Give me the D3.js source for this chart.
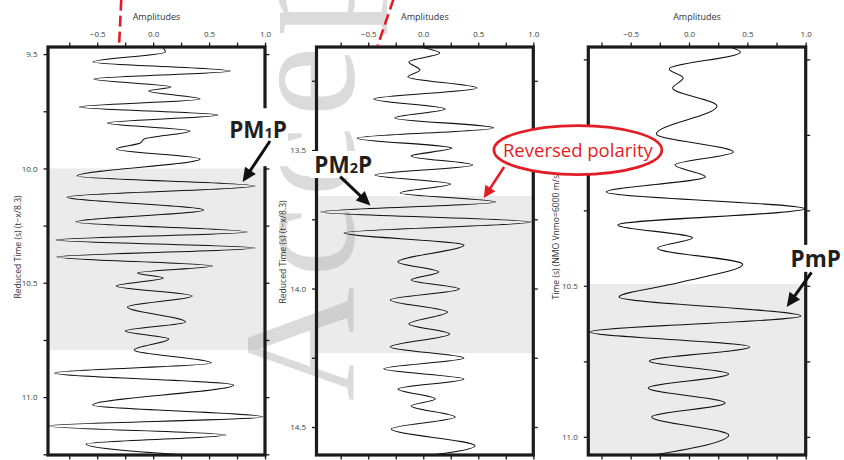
<!DOCTYPE html>
<html>
<head>
<meta charset="utf-8">
<script src="https://cdn.jsdelivr.net/npm/d3@7"></script>
<style>
  body { margin: 0; background: #fff; }
  svg { display: block; }
  text { font-family: "Open Sans", "Noto Sans", sans-serif; }
</style>
</head>
<body>
<svg id="chart" width="844" height="460"></svg>
<script>
// ---- Axis ticks ----
const ampMajor = [-0.5, 0.0, 0.5, 1.0];
const ampMinor = [-0.75, -0.25, 0.25, 0.75];
const time1Major = [9.5, 10.0, 10.5, 11.0];
const time1Minor = [9.75, 10.25, 10.75, 11.25];
const time2Major = [13.5, 14.0, 14.5];
const time2Minor = [13.25, 13.75, 14.25];
const time3Major = [10.5, 11.0];
const time3Minor = [9.75, 10.0, 10.25, 10.75];

// ---- Highlighted time windows (s) ----
const shade1 = [10.0, 10.794];
const shade2 = [13.666, 14.233];
const shade3 = [10.494, 11.07];

// ---- Trace 1: PM1P record, reduced time (t - x/8.3) ----
const trace1Time = [9.469, 9.491, 9.535, 9.574, 9.609, 9.644, 9.661, 9.696, 9.731, 9.766,
  9.801, 9.836, 9.871, 9.889, 9.915, 9.959, 10.033, 10.077, 10.125, 10.182,
  10.234, 10.278, 10.313, 10.348, 10.387, 10.427, 10.457, 10.479, 10.514, 10.558,
  10.606, 10.671, 10.711, 10.746, 10.794, 10.851, 10.894, 10.947, 11.034, 11.087,
  11.126, 11.166, 11.205, 11.27];
const trace1Amp = [0.08, 0.11, -0.54, 0.69, -0.53, 0.16, -0.04, 0.42, -0.66, 0.58,
  -0.41, 0.33, -0.08, -0.115, -0.33, 0.42, -0.68, 0.91, -0.77, 0.45,
  -0.69, 0.84, -0.87, 0.91, -0.86, 0.53, -0.14, 0.09, -0.33, 0.35,
  -0.23, 0.29, -0.25, 0.14, -0.17, 0.52, -0.88, 0.72, -0.54, 0.98,
  -0.95, 0.65, -0.60, 0.85];

// ---- Trace 2: PM2P record, reduced time (t - x/8.3) ----
const trace2Time = [13.128, 13.150, 13.182, 13.211, 13.236, 13.276, 13.316, 13.352, 13.384, 13.420,
  13.457, 13.493, 13.522, 13.554, 13.590, 13.623, 13.655, 13.688, 13.724, 13.760,
  13.799, 13.843, 13.904, 13.940, 13.969, 14.002, 14.041, 14.085, 14.128, 14.164,
  14.211, 14.251, 14.290, 14.327, 14.363, 14.399, 14.424, 14.464, 14.507, 14.568, 14.62];
const trace2Amp = [-0.03, 0.15, -0.13, -0.03, -0.14, 0.49, -0.45, 0.20, -0.26, 0.64,
  -0.60, 0.26, -0.11, 0.45, -0.44, 0.25, -0.21, 0.66, -0.93, 0.98,
  -0.72, 0.37, -0.23, 0.14, -0.11, 0.33, -0.30, 0.22, -0.13, 0.24,
  -0.30, 0.37, -0.36, 0.37, -0.23, 0.11, -0.11, 0.29, -0.29, 0.47, -0.35];

// ---- Trace 3: PmP record, NMO-corrected time (Vnmo = 6000 m/s) ----
const trace3Time = [9.709, 9.726, 9.782, 9.812, 9.845, 9.904, 9.997, 10.057, 10.100, 10.139,
  10.189, 10.245, 10.298, 10.341, 10.375, 10.428, 10.490, 10.537, 10.600, 10.653,
  10.702, 10.749, 10.792, 10.838, 10.888, 10.934, 10.994, 11.07];
const trace3Amp = [0.35, 0.44, -0.17, -0.05, -0.14, 0.24, -0.28, 0.38, -0.12, 0.14,
  -0.71, 0.99, -0.61, 0.03, -0.27, 0.46, -0.09, -0.60, 0.96, -0.85,
  0.52, -0.34, 0.34, -0.35, 0.31, -0.32, 0.34, -0.45];

// ---- Layout ----
const TOP = 47, BOTTOM = 455;
const INK = "#1c1a1b", RED = "#e31d25", SHADE = "#ebebeb";

const panels = [
  { left: 48, right: 265, ampDomain: [-0.94, 1.0], timeDomain: [9.469, 11.253],
    time: trace1Time, amp: trace1Amp, shade: shade1, major: time1Major, minor: time1Minor,
    title: "Reduced Time (s) (t\u2212x/8.3)", titleX: 20.5, titleY: 247 },
  { left: 316.5, right: 533.3, ampDomain: [-0.97, 1.0], timeDomain: [13.128, 14.601],
    time: trace2Time, amp: trace2Amp, shade: shade2, major: time2Major, minor: time2Minor,
    title: "Reduced Time (s) (t\u2212x/8.3)", titleX: 286, titleY: 252 },
  { left: 588.3, right: 805.7, ampDomain: [-0.863, 1.0], timeDomain: [9.709, 11.06],
    time: trace3Time, amp: trace3Amp, shade: shade3, major: time3Major, minor: time3Minor,
    title: "Time (s) (NMO Vnmo=6000 m/s)", titleX: 559, titleY: 236 }
];

const svg = d3.select("#chart");
const defs = svg.append("defs");
const fmt = d3.format(".1f");

panels.forEach((p, i) => {
  p.x = d3.scaleLinear().domain(p.ampDomain).range([p.left, p.right]);
  p.y = d3.scaleLinear().domain(p.timeDomain).range([TOP, BOTTOM]);
  defs.append("clipPath").attr("id", "clip" + i)
    .append("rect").attr("x", p.left).attr("y", TOP)
    .attr("width", p.right - p.left).attr("height", BOTTOM - TOP);
});

// Shaded windows
const shadeLayer = svg.append("g");
panels.forEach((p) => {
  const y0 = Math.max(TOP, p.y(p.shade[0]));
  const y1 = Math.min(BOTTOM, p.y(p.shade[1]));
  shadeLayer.append("rect")
    .attr("x", p.left).attr("y", y0)
    .attr("width", p.right - p.left).attr("height", y1 - y0)
    .attr("fill", SHADE);
});

// Faint rotated stamp between the first two panels
svg.append("text")
  .attr("transform", "translate(353,401) rotate(-90)")
  .style("font-family", "'Liberation Serif', 'DejaVu Serif', serif")
  .attr("font-size", 158)
  .attr("letter-spacing", 10)
  .attr("fill", "#a9a9a9")
  .attr("fill-opacity", 0.42)
  .text("Accepted");

// Traces
panels.forEach((p, i) => {
  const pts = p.time.map((t, k) => ({ t, a: p.amp[k] }));
  const line = d3.line().x(d => p.x(d.a)).y(d => p.y(d.t)).curve(d3.curveMonotoneY);
  svg.append("path")
    .attr("clip-path", `url(#clip${i})`)
    .attr("d", line(pts))
    .attr("fill", "none")
    .attr("stroke", "#111")
    .attr("stroke-width", 1.05);
});

// Axes and frames
function styleAxis(g) {
  g.select(".domain").remove();
  g.selectAll(".tick line").attr("stroke", INK).attr("stroke-width", 1.3);
  g.selectAll(".tick text").attr("fill", "#3d3d3d").attr("font-size", 8)
    .style("font-family", "'Open Sans', sans-serif");
}
panels.forEach((p) => {
  const g = svg.append("g");
  g.append("g").attr("transform", `translate(0,${TOP})`)
    .call(d3.axisTop(p.x).tickValues(ampMajor).tickSize(4.5).tickPadding(5.5).tickFormat(fmt)).call(styleAxis);
  g.append("g").attr("transform", `translate(0,${TOP})`)
    .call(d3.axisTop(p.x).tickValues(ampMinor).tickSize(4.5).tickFormat("")).call(styleAxis);
  g.append("g").attr("transform", `translate(0,${BOTTOM})`)
    .call(d3.axisBottom(p.x).tickValues(ampMajor.concat(ampMinor)).tickSize(4.5).tickFormat("")).call(styleAxis);
  g.append("g").attr("transform", `translate(${p.left},0)`)
    .call(d3.axisLeft(p.y).tickValues(p.major).tickSize(4.5).tickPadding(6).tickFormat(fmt)).call(styleAxis);
  g.append("g").attr("transform", `translate(${p.left},0)`)
    .call(d3.axisLeft(p.y).tickValues(p.minor).tickSize(4.5).tickFormat("")).call(styleAxis);
  g.append("g").attr("transform", `translate(${p.right},0)`)
    .call(d3.axisRight(p.y).tickValues(p.major.concat(p.minor)).tickSize(4.5).tickFormat("")).call(styleAxis);

  g.append("rect")
    .attr("x", p.left).attr("y", TOP)
    .attr("width", p.right - p.left).attr("height", BOTTOM - TOP)
    .attr("fill", "none").attr("stroke", INK).attr("stroke-width", 3.2);

  g.append("text")
    .attr("x", (p.left + p.right) / 2).attr("y", 20)
    .attr("text-anchor", "middle").attr("font-size", 9).attr("fill", "#333")
    .text("Amplitudes");

  g.append("text")
    .attr("transform", `translate(${p.titleX},${p.titleY}) rotate(-90)`)
    .attr("text-anchor", "middle").attr("font-size", 8.6).attr("fill", "#333")
    .text(p.title);
});

// Red dashed guide entering the top of the first two panels
const guide = [
  { panel: 0, t0: 9.262, a0: -0.285, t1: 9.466, a1: -0.305 },
  { panel: 1, t0: 12.955, a0: -0.27, t1: 13.124, a1: -0.415 }
];
guide.forEach(d => {
  const p = panels[d.panel];
  svg.append("line")
    .attr("x1", p.x(d.a0)).attr("y1", p.y(d.t0))
    .attr("x2", p.x(d.a1)).attr("y2", p.y(d.t1))
    .attr("stroke", RED).attr("stroke-width", 2.6)
    .attr("stroke-dasharray", "11,5");
});

// Annotations
function arrow(x1, y1, x2, y2, color, w, L, hw) {
  const dx = x2 - x1, dy = y2 - y1, len = Math.hypot(dx, dy);
  const ux = dx / len, uy = dy / len;
  const bx = x2 - ux * L, by = y2 - uy * L;
  svg.append("line")
    .attr("x1", x1).attr("y1", y1).attr("x2", bx + ux * 2).attr("y2", by + uy * 2)
    .attr("stroke", color).attr("stroke-width", w);
  svg.append("path")
    .attr("d", `M${x2},${y2}L${bx - uy * hw},${by + ux * hw}L${bx + uy * hw},${by - ux * hw}Z`)
    .attr("fill", color);
}
function phaseLabel(x, y, main, sub, tail, boxW) {
  if (boxW > 0) {
    svg.append("rect").attr("x", x - 4).attr("y", y - 22).attr("width", boxW).attr("height", 27).attr("fill", "#fff");
  }
  const t = svg.append("text").attr("x", x).attr("y", y)
    .attr("font-weight", 700).attr("font-size", 22.5).attr("fill", "#231f20");
  t.append("tspan").text(main);
  if (sub) t.append("tspan").attr("font-size", 14.5).text(sub);
  if (tail) t.append("tspan").text(tail);
}

// PM1P
{
  const p = panels[0];
  svg.append("rect").attr("x", 224).attr("y", p.y(9.737)).attr("width", 64)
    .attr("height", p.y(9.99) - p.y(9.737)).attr("fill", "#fff");
  phaseLabel(p.x(0.68), p.y(9.866), "PM", "1", "P", 0);
  arrow(p.x(1.045), p.y(9.880), p.x(0.80), p.y(10.059), "#111", 3, 14, 6.5);
}
// PM2P
{
  const p = panels[1];
  phaseLabel(p.x(-0.99), p.y(13.583), "PM", "2", "P", 63);
  arrow(p.x(-0.755), p.y(13.596), p.x(-0.48), p.y(13.700), "#111", 3, 14, 6.5);
}
// Reversed polarity callout
{
  const p = panels[1];
  const cx = p.x(1.405), cy = p.y(13.5);
  svg.append("ellipse").attr("cx", cx).attr("cy", cy).attr("rx", 84).attr("ry", 24.5)
    .attr("fill", "#fff").attr("stroke", RED).attr("stroke-width", 2.7);
  svg.append("text").attr("x", cx).attr("y", cy + 7)
    .attr("text-anchor", "middle").attr("font-size", 18.5).attr("fill", RED)
    .text("Reversed polarity");
  arrow(p.x(0.735), p.y(13.561), p.x(0.55), p.y(13.673), RED, 2.6, 12, 6);
}
// PmP
{
  const p = panels[2];
  phaseLabel(p.x(0.87), p.y(10.437), "PmP", "", "", 60);
  arrow(p.x(1.05), p.y(10.455), p.x(0.837), p.y(10.570), "#111", 3, 14, 6.5);
}
</script>
</body>
</html>
